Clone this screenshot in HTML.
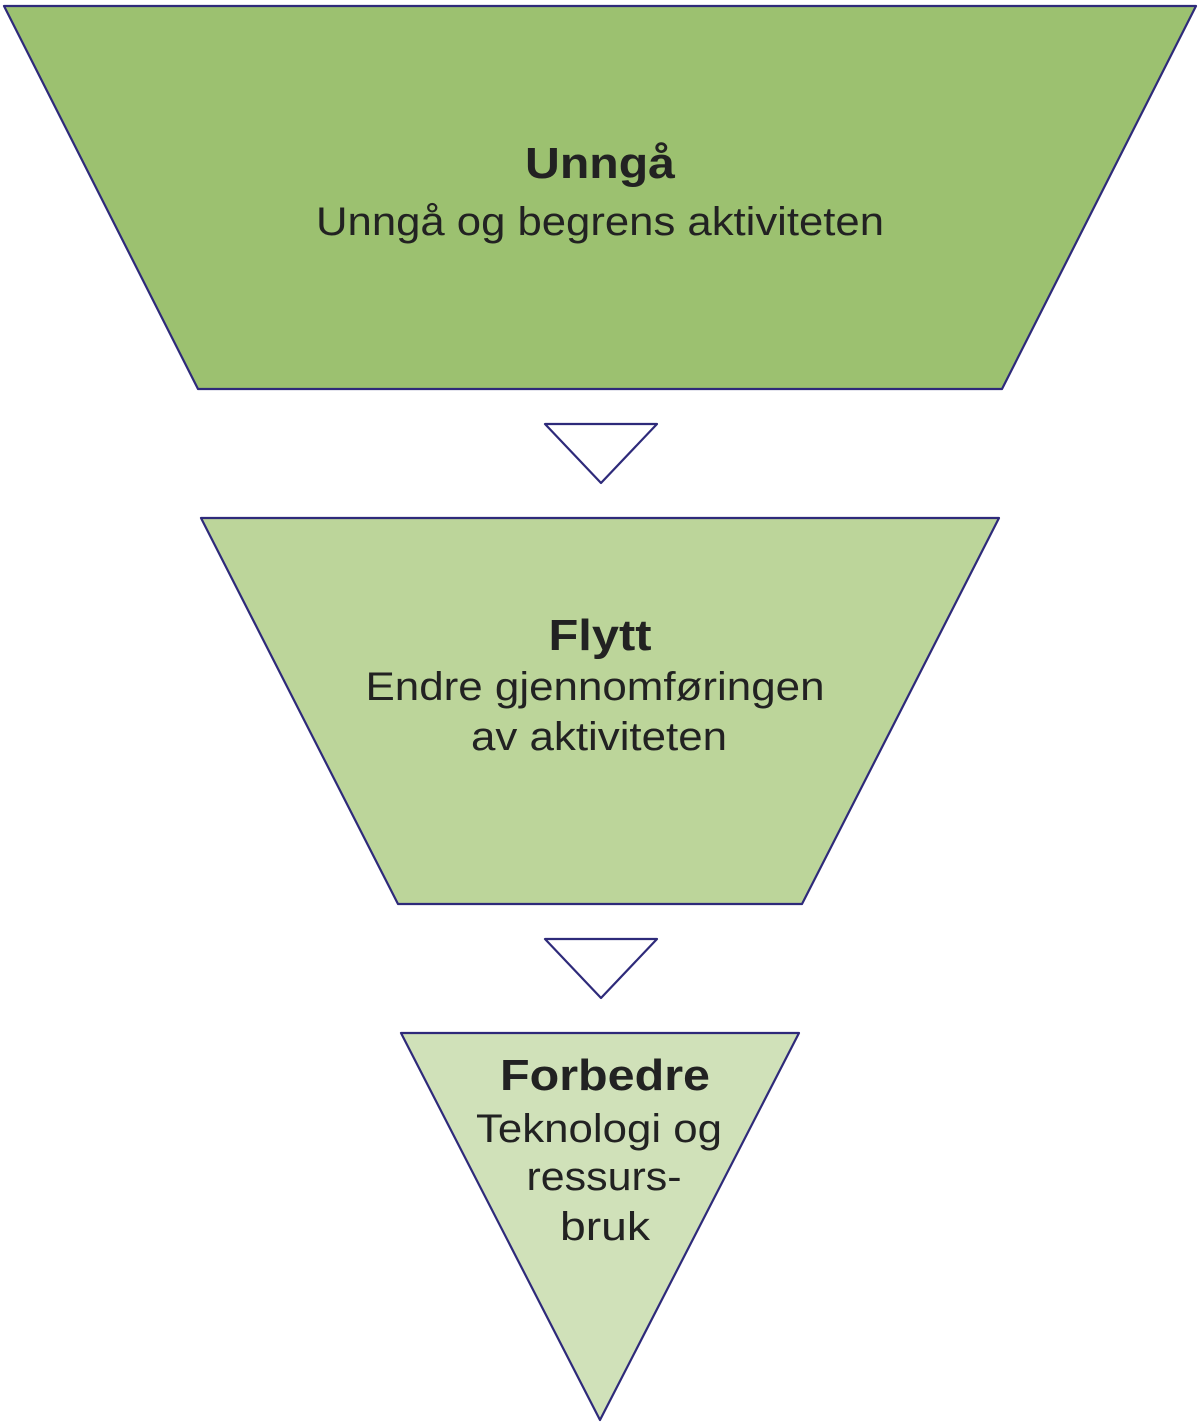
<!DOCTYPE html>
<html><head><meta charset="utf-8"><style>html,body{margin:0;padding:0;background:#fff}svg{display:block}</style></head>
<body>
<svg width="1200" height="1428" viewBox="0 0 1200 1428" xmlns="http://www.w3.org/2000/svg">
<g stroke="#2e2a7a" stroke-width="2.2" stroke-linejoin="round">
<polygon points="4,6 1196,6 1002,389 198,389" fill="#9cc170"/>
<polygon points="545,424 657,424 601,483" fill="#fff"/>
<polygon points="201,518 999,518 802,904 398,904" fill="#bcd59a"/>
<polygon points="545,939 657,939 601,998" fill="#fff"/>
<polygon points="401,1033 799,1033 600,1420" fill="#d0e1b9"/>
</g>
<g font-family="Liberation Sans, sans-serif" fill="#222" text-anchor="middle">
<text x="600" y="178" font-size="44" font-weight="bold" textLength="150" lengthAdjust="spacingAndGlyphs">Unngå</text>
<text x="600" y="235" font-size="40" textLength="568" lengthAdjust="spacingAndGlyphs">Unngå og begrens aktiviteten</text>
<text x="600" y="650" font-size="44" font-weight="bold" textLength="103" lengthAdjust="spacingAndGlyphs">Flytt</text>
<text x="595" y="700" font-size="40" textLength="459" lengthAdjust="spacingAndGlyphs">Endre gjennomføringen</text>
<text x="599" y="750" font-size="40" textLength="256" lengthAdjust="spacingAndGlyphs">av aktiviteten</text>
<text x="605" y="1090" font-size="44" font-weight="bold" textLength="210" lengthAdjust="spacingAndGlyphs">Forbedre</text>
<text x="599" y="1142" font-size="40" textLength="246" lengthAdjust="spacingAndGlyphs">Teknologi og</text>
<text x="604" y="1190" font-size="40" textLength="155" lengthAdjust="spacingAndGlyphs">ressurs-</text>
<text x="605" y="1240" font-size="40" textLength="90" lengthAdjust="spacingAndGlyphs">bruk</text>
</g>
</svg>
</body></html>
